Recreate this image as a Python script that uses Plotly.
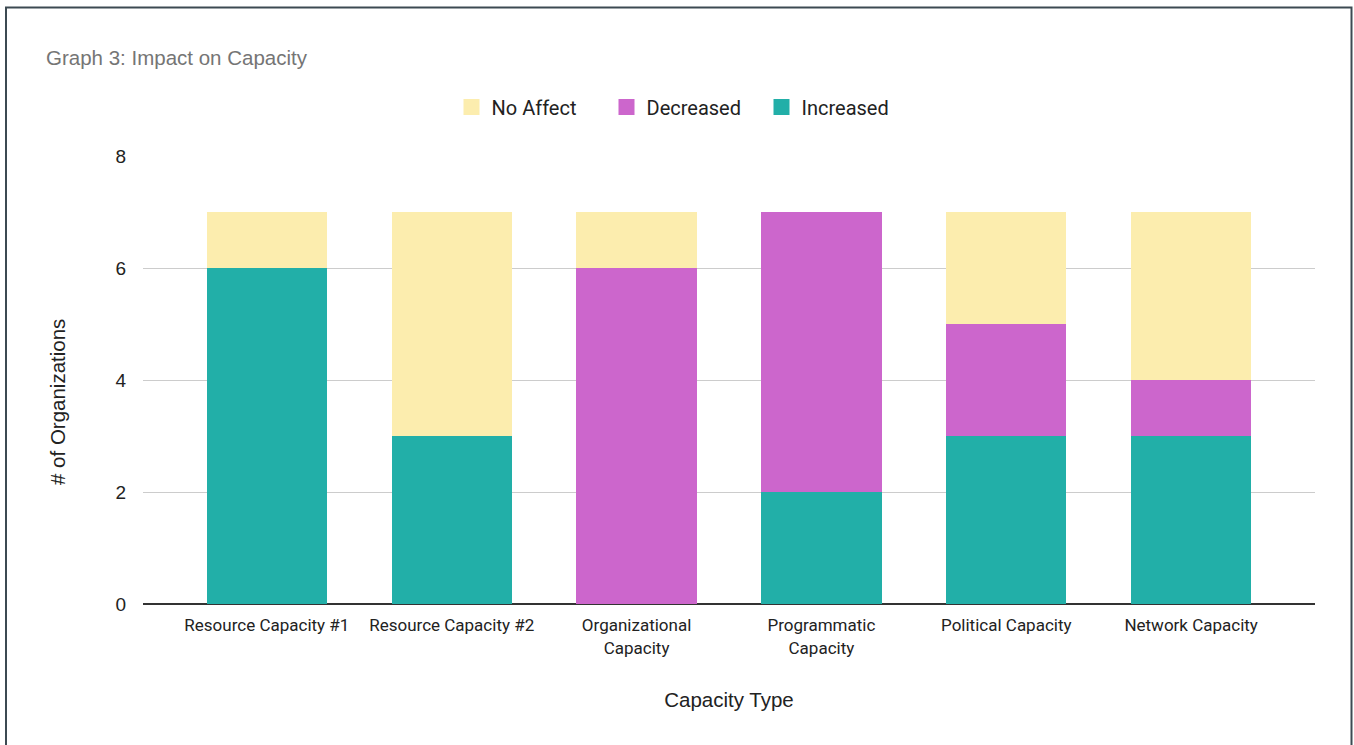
import plotly.graph_objects as go

categories = ["Resource Capacity #1", "Resource Capacity #2", "Organizational<br>Capacity",
              "Programmatic<br>Capacity", "Political Capacity", "Network Capacity"]
increased = [6, 3, 0, 2, 3, 3]
decreased = [0, 0, 6, 5, 2, 1]
no_affect = [1, 4, 1, 0, 2, 3]
y_ticks = [0, 2, 4, 6, 8]

series = [("Increased", increased, "#22afa8"),
          ("Decreased", decreased, "#cc66cc"),
          ("No Affect", no_affect, "#fcedae")]

W, H = 1354, 745
L, R, T, B = 143, 39, 156, 141
pw, ph = W - L - R, H - T - B

def px(x):
    return (x - L) / pw

def py(y):
    return (H - B - y) / ph

fig = go.Figure()
for name, vals, col in series:
    fig.add_bar(x=categories, y=vals, name=name, marker=dict(color=col, line=dict(width=0)),
                showlegend=False, legendgroup=name)
for name, vals, col in series:
    fig.add_scatter(x=[None], y=[None], mode="markers", name=name, legendgroup=name,
                    marker=dict(symbol="square", size=16, color=col), showlegend=True)

fig.update_layout(
    width=W, height=H,
    margin=dict(l=L, r=R, t=T, b=B, pad=0),
    barmode="stack",
    bargap=0.35,
    plot_bgcolor="white",
    paper_bgcolor="white",
    legend=dict(orientation="h", x=px(684), xanchor="center", y=py(107), yanchor="middle",
                traceorder="reversed", font=dict(family="Roboto", size=20, color="#222222"),
                itemsizing="trace", itemwidth=30, entrywidth=110, entrywidthmode="pixels"),
    xaxis=dict(range=[-0.67, 5.67], showgrid=False, showline=False,
               ticks="outside", ticklen=6, tickcolor="rgba(0,0,0,0)",
               tickfont=dict(family="Roboto", size=17, color="#222222"),
               title=dict(text="Capacity Type", font=dict(family="Liberation Sans, Arial", size=20.5, color="#222222"),
                          standoff=36)),
    yaxis=dict(range=[0, 8], tickvals=y_ticks, showgrid=True, gridcolor="#cccccc", gridwidth=1,
               zeroline=True, zerolinecolor="#333333", zerolinewidth=1.5,
               tickfont=dict(family="Liberation Sans, Arial", size=19, color="#222222"),
               ticks="outside", ticklen=12, tickcolor="rgba(0,0,0,0)"),
    annotations=[
        dict(text="Graph 3: Impact on Capacity", xref="paper", yref="paper",
             x=px(44), y=py(57), xanchor="left", yanchor="middle", showarrow=False,
             font=dict(family="Liberation Sans, Arial", size=20.5, color="#757575")),
        dict(text="# of Organizations", xref="paper", yref="paper", textangle=-90,
             x=px(57), y=py(402), xanchor="center", yanchor="middle", showarrow=False,
             font=dict(family="Liberation Sans, Arial", size=20.5, color="#222222")),
    ],
    shapes=[dict(type="rect", xref="paper", yref="paper", x0=px(6), x1=px(1351.5), y0=py(760), y1=py(7.5),
                 line=dict(color="#3c4a52", width=2), fillcolor="rgba(0,0,0,0)", layer="above")],
)

fig.write_html("out.html")
